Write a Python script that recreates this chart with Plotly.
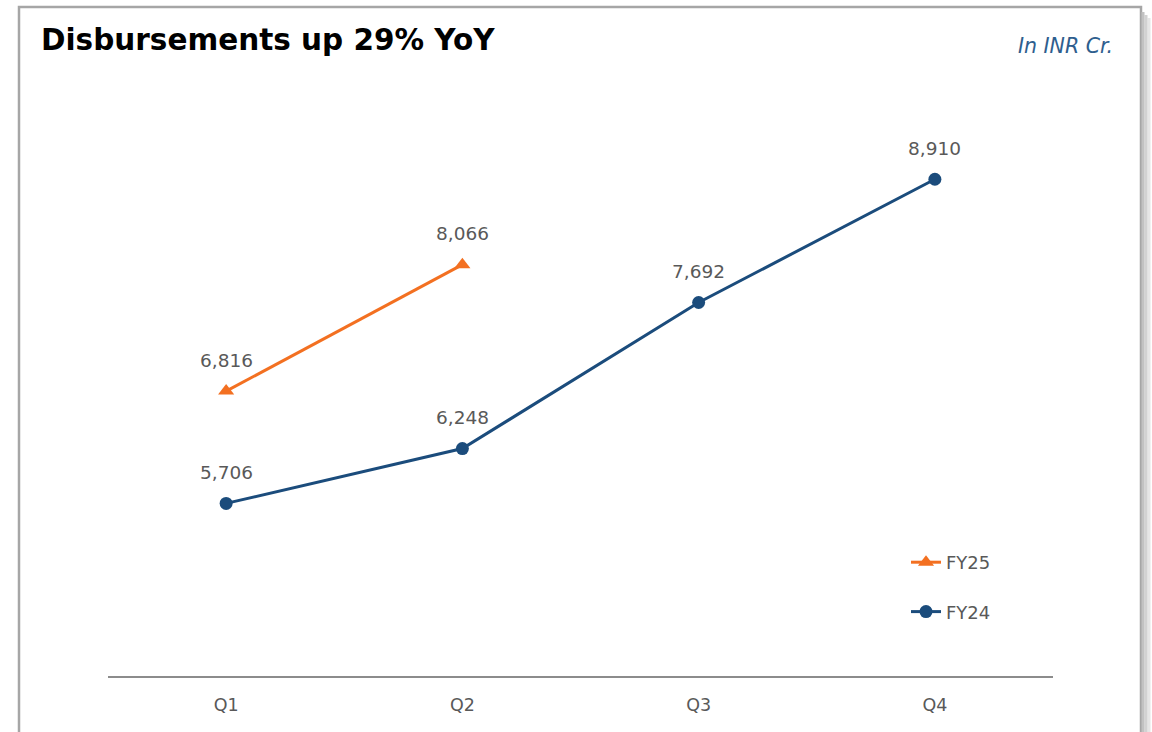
import plotly.graph_objects as go

quarters = ["Q1", "Q2", "Q3", "Q4"]
fy24 = [5706, 6248, 7692, 8910]
fy25 = [6816, 8066]
fy24_labels = ["5,706", "6,248", "7,692", "8,910"]
fy25_labels = ["6,816", "8,066"]

ORANGE = "#F37021"
BLUE = "#1B4C7C"
GRAY_TXT = "#595959"
FONT = "DejaVu Sans"

W, H = 1152, 732
L, R, T, B = 108, 99, 69, 56
pw, ph = W - L - R, H - T - B

def px_x(x):
    return (x - L) / pw

def px_y(y):
    return (H - B - y) / ph

fig = go.Figure()
fig.add_trace(go.Scatter(
    x=quarters, y=fy24, name="FY24", mode="lines+markers",
    line=dict(color=BLUE, width=3), marker=dict(symbol="circle", size=13, color=BLUE),
    legendgroup="a", legendrank=2,
))
fig.add_trace(go.Scatter(
    x=quarters[:len(fy25)], y=fy25, name="FY25", mode="lines+markers",
    line=dict(color=ORANGE, width=3), marker=dict(symbol="triangle-up", size=14, color=ORANGE),
    legendgroup="b", legendrank=1,
))

for q, v, t in list(zip(quarters, fy24, fy24_labels)) + list(zip(quarters, fy25, fy25_labels)):
    fig.add_annotation(x=q, y=v, text=t, showarrow=False, yshift=31,
                       font=dict(family=FONT, size=18.5, color=GRAY_TXT))

# frame with shadow
shapes = []
for i, c in enumerate(["#E6E6E6", "#D2D2D2", "#C2C2C2"]):
    off = 8 - i * 3
    shapes.append(dict(type="line", xref="paper", yref="paper",
                       x0=px_x(1141 + off), x1=px_x(1141 + off), y0=px_y(10 + off), y1=px_y(745),
                       line=dict(color=c, width=3)))
shapes.append(dict(type="rect", xref="paper", yref="paper",
                   x0=px_x(19), x1=px_x(1141), y0=px_y(7), y1=px_y(745),
                   line=dict(color="#A6A6A6", width=2.5), fillcolor="rgba(0,0,0,0)", layer="below"))

fig.update_layout(
    width=W, height=H,
    margin=dict(l=L, r=R, t=T, b=B),
    paper_bgcolor="white", plot_bgcolor="white",
    shapes=shapes,
    title=dict(text="<b>Disbursements up 29% YoY</b>", x=41 / W, xanchor="left",
               y=1 - 40 / H, yanchor="middle", xref="container", yref="container",
               font=dict(family=FONT, size=29.5, color="black")),
    xaxis=dict(range=[-0.5, 3.5], showgrid=False, zeroline=False, showline=True,
               linecolor="#8C8C8C", linewidth=2, ticks="", ticklabelstandoff=12,
               tickfont=dict(family=FONT, size=17.5, color=GRAY_TXT), fixedrange=True),
    yaxis=dict(range=[4000, 10000], showgrid=False, zeroline=False, showline=False,
               showticklabels=False, ticks="", fixedrange=True),
    legend=dict(x=px_x(906), y=px_y(544), xanchor="left", yanchor="top",
                tracegroupgap=23, bgcolor="rgba(0,0,0,0)",
                font=dict(family=FONT, size=18, color=GRAY_TXT)),
    showlegend=True,
)
fig.add_annotation(xref="paper", yref="paper", x=px_x(1115), y=px_y(46), xanchor="right",
                   yanchor="middle", showarrow=False, text="<i>In INR Cr.</i>",
                   font=dict(family=FONT, size=20.5, color="#2E5E8E"))

fig.write_html("out.html")
